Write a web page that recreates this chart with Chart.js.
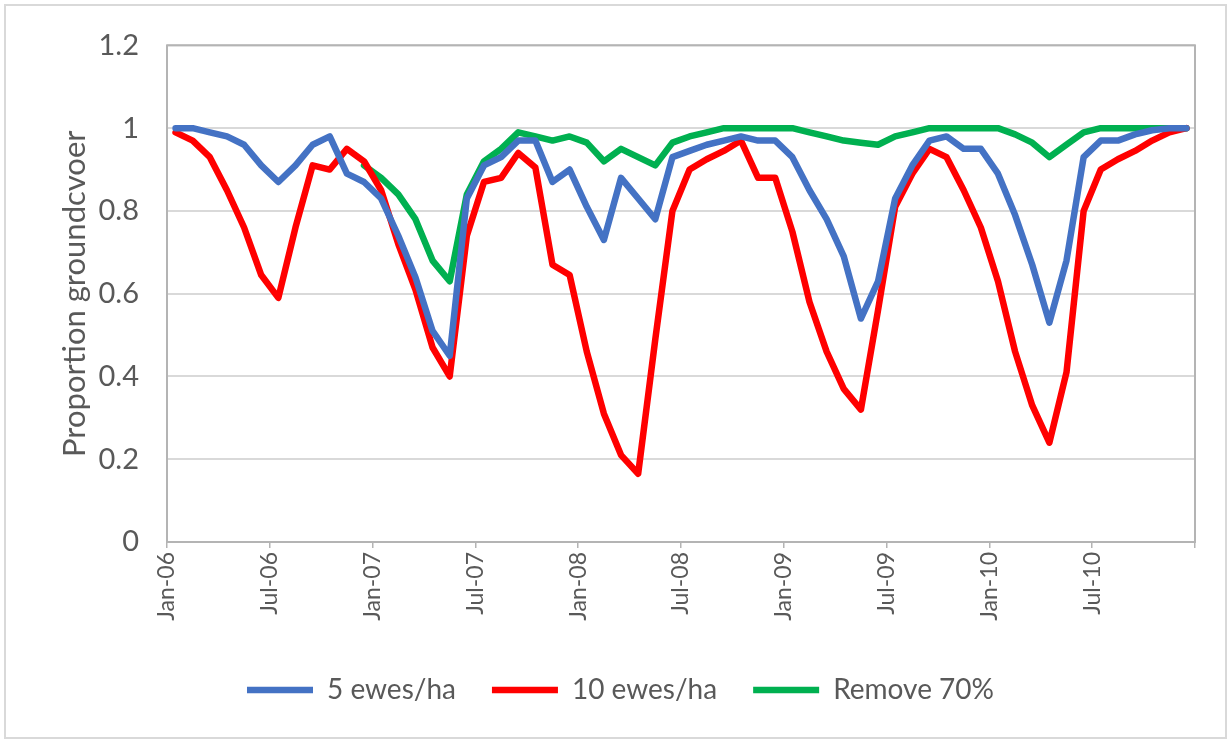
<!DOCTYPE html>
<html>
<head>
<meta charset="utf-8">
<script src="https://cdn.jsdelivr.net/npm/chart.js@4.4.0/dist/chart.umd.min.js"></script>
<style>
  body { margin: 0; background: #fff; }
  #wrap { position: relative; width: 1232px; height: 740px; }
  #frame { position: absolute; left: 4px; top: 4px; width: 1219px; height: 731px; border: 2px solid #d9d9d9; pointer-events: none; }
</style>
</head>
<body>
<div id="wrap">
  <canvas id="chart"></canvas>
  <div id="frame"></div>
</div>
<script>
// tick labels, one every 6 months (Jan-06 .. Jul-10)
const xTickLabels = ['Jan-06', 'Jul-06', 'Jan-07', 'Jul-07', 'Jan-08', 'Jul-08', 'Jan-09', 'Jul-09', 'Jan-10', 'Jul-10'];

// monthly values, Jan-06 .. Dec-10
const ewes5 = [
    1.0, 1.0, 0.99, 0.98, 0.96, 0.91, 0.87, 0.91, 0.96, 0.98, 0.89, 0.87,
    0.83, 0.74, 0.64, 0.51, 0.45, 0.83, 0.91, 0.93, 0.97, 0.97, 0.87, 0.90,
    0.81, 0.73, 0.88, 0.83, 0.78, 0.93, 0.945, 0.96, 0.97, 0.98, 0.97, 0.97,
    0.93, 0.85, 0.78, 0.69, 0.54, 0.63, 0.83, 0.91, 0.97, 0.98, 0.95, 0.95,
    0.89, 0.79, 0.67, 0.53, 0.68, 0.93, 0.97, 0.97, 0.985, 0.995, 1.0, 1.0
];
const ewes10 = [
    0.99, 0.97, 0.93, 0.85, 0.76, 0.645, 0.59, 0.76, 0.91, 0.90, 0.95, 0.92,
    0.85, 0.72, 0.61, 0.47, 0.40, 0.74, 0.87, 0.88, 0.94, 0.905, 0.67, 0.645,
    0.46, 0.31, 0.21, 0.165, 0.49, 0.80, 0.90, 0.925, 0.945, 0.97, 0.88, 0.88,
    0.75, 0.58, 0.46, 0.37, 0.32, 0.56, 0.81, 0.89, 0.95, 0.93, 0.85, 0.76,
    0.63, 0.46, 0.33, 0.24, 0.41, 0.80, 0.90, 0.925, 0.945, 0.97, 0.99, 1.0
];
const remove70 = [
    null, null, null, null, null, null, null, null, null, null, null, 0.91,
    0.88, 0.84, 0.78, 0.68, 0.63, 0.84, 0.92, 0.95, 0.99, 0.98, 0.97, 0.98,
    0.965, 0.92, 0.95, 0.93, 0.91, 0.965, 0.98, 0.99, 1.0, 1.0, 1.0, 1.0,
    1.0, 0.99, 0.98, 0.97, 0.965, 0.96, 0.98, 0.99, 1.0, 1.0, 1.0, 1.0,
    1.0, 0.985, 0.965, 0.93, 0.96, 0.99, 1.0, 1.0, 1.0, 1.0, 1.0, 1.0
];

const FONT = 'Lato, "Open Sans", sans-serif';
const TEXT_COLOR = '#595959';

// each monthly value sits in the middle of its month
const toPoints = (arr) => arr.map((v, i) => ({ x: i + 0.5, y: v }));

const plotBorder = {
    id: 'plotBorder',
    beforeDatasetsDraw(chart) {
        const { ctx, chartArea: a } = chart;
        ctx.save();
        ctx.strokeStyle = '#b4b4b4';
        ctx.lineWidth = 2;
        ctx.strokeRect(a.left, a.top, a.right - a.left, a.bottom - a.top);
        ctx.restore();
    }
};

// legend in the original sits a little right of the canvas centre
const legendNudge = {
    id: 'legendNudge',
    afterLayout(chart) {
        if (chart.legend) {
            chart.legend.left += 18;
            chart.legend.right += 18;
        }
    }
};

function makeDataset(label, arr, color) {
    return {
        label: label,
        data: toPoints(arr),
        borderColor: color,
        backgroundColor: color,
        borderWidth: 6.5,
        pointRadius: 0,
        pointHoverRadius: 0,
        tension: 0,
        borderJoinStyle: 'round',
        borderCapStyle: 'round',
        spanGaps: false
    };
}

const ctx = document.getElementById('chart').getContext('2d');
new Chart(ctx, {
    type: 'line',
    data: {
        datasets: [
            makeDataset('5 ewes/ha', ewes5, '#4472C4'),
            makeDataset('10 ewes/ha', ewes10, '#FF0000'),
            makeDataset('Remove 70%', remove70, '#00B050')
        ]
    },
    options: {
        responsive: true,
        maintainAspectRatio: false,
        animation: false,
        layout: { padding: { top: 43, right: 37, left: 10, bottom: 26 } },
        scales: {
            x: {
                type: 'linear',
                min: 0,
                max: 60,
                afterFit: (scale) => { scale.height = 98; },
                grid: { drawOnChartArea: false, drawTicks: true, tickLength: 6, color: '#b4b4b4', lineWidth: 1.5 },
                border: { display: false },
                ticks: {
                    stepSize: 6,
                    autoSkip: false,
                    minRotation: 90,
                    maxRotation: 90,
                    padding: 4,
                    color: TEXT_COLOR,
                    font: { family: FONT, size: 23 },
                    callback: (value) => xTickLabels[value / 6] || ''
                }
            },
            y: {
                min: 0,
                max: 1.2,
                afterFit: (scale) => { scale.width = 157; },
                grid: { color: '#d9d9d9', lineWidth: 2, drawTicks: false },
                border: { display: false },
                ticks: {
                    stepSize: 0.2,
                    padding: 28,
                    color: TEXT_COLOR,
                    font: { family: FONT, size: 29 },
                    callback: (value) => String(Math.round(value * 10) / 10)
                },
                title: {
                    display: true,
                    text: 'Proportion groundcvoer',
                    color: TEXT_COLOR,
                    font: { family: FONT, size: 31 },
                    padding: { top: 46 }
                }
            }
        },
        plugins: {
            legend: {
                position: 'bottom',
                labels: {
                    usePointStyle: true,
                    pointStyle: 'line',
                    pointStyleWidth: 66,
                    padding: 36,
                    color: TEXT_COLOR,
                    font: { family: FONT, size: 28 }
                }
            },
            tooltip: { enabled: false }
        }
    },
    plugins: [plotBorder, legendNudge]
});
</script>
</body>
</html>
